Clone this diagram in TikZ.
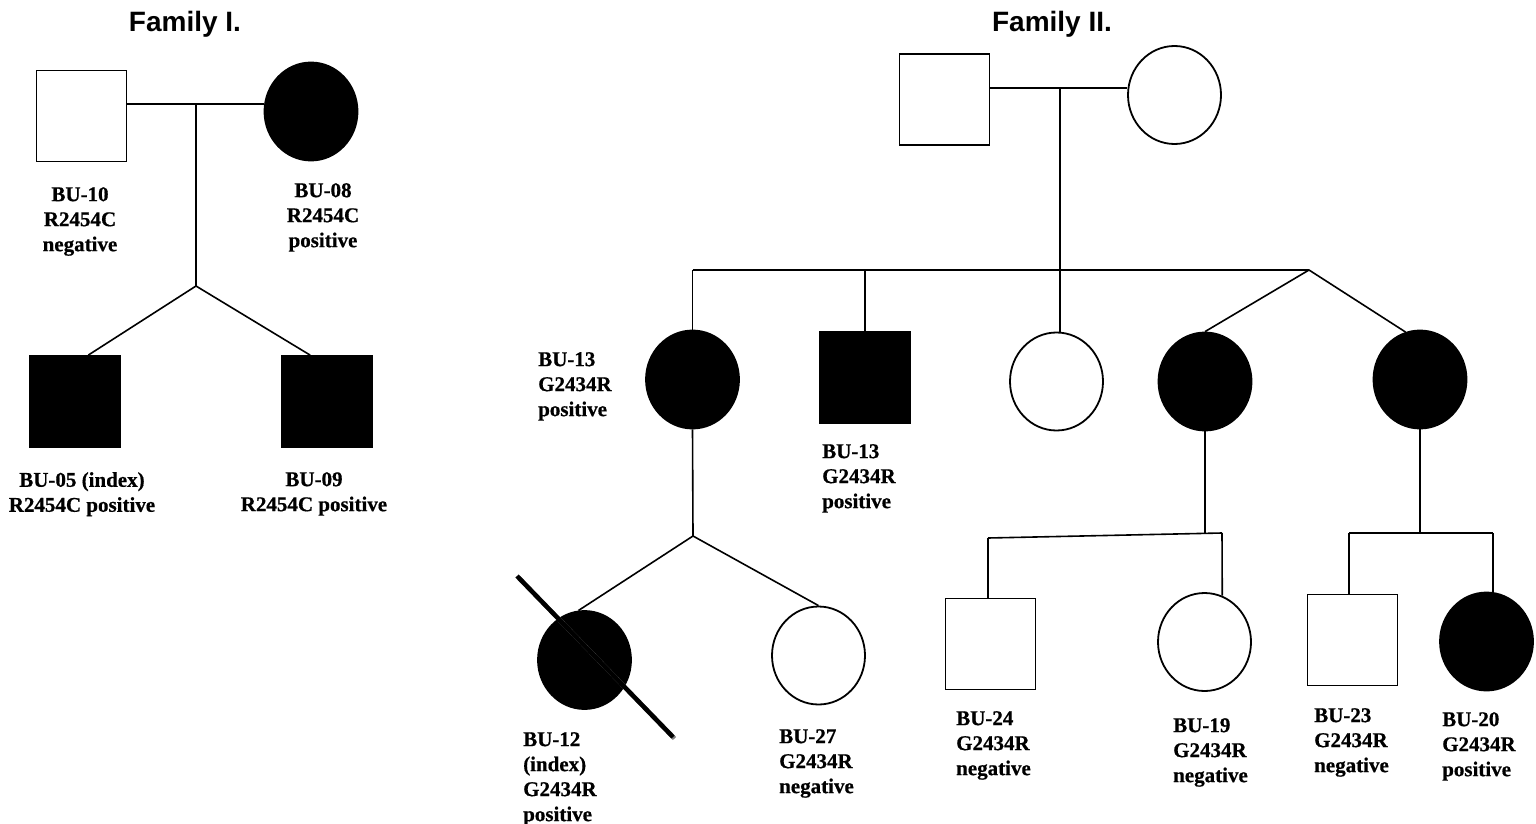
\documentclass[tikz,border=0pt]{standalone}
\usepackage{fontspec}
\setmainfont{Liberation Serif}
\newfontfamily\tagfont{Liberation Serif}[UprightFont={* Bold},FakeBold=0.6,AutoFakeBold=0.6]
\newfontfamily\headfont{Liberation Sans}
\usetikzlibrary{shapes.geometric}

\begin{document}
\begin{tikzpicture}[x=1pt,y=-1pt,
  male/.style={draw,rectangle,line width=1.8pt,minimum width=90pt,minimum height=91pt,inner sep=0pt},
  female/.style={draw,ellipse,line width=1.8pt,minimum width=93pt,minimum height=98pt,inner sep=0pt},
  aff/.style={fill=black},
  kin/.style={line width=1.6pt},
  tag/.style={font=\tagfont\fontsize{21}{25}\selectfont,inner sep=0pt},
  head/.style={font=\headfont\bfseries\fontsize{28}{32}\selectfont,inner sep=0pt}]
\fill[white] (0,0) rectangle (1536,824);
\useasboundingbox (0,0) rectangle (1536,824);
% Titles
\node[head,anchor=base] (t1) at (185,32) {Family I.};
\node[head,anchor=base] (t2) at (1052,32) {Family II.};
% Family I: individuals
\node[male] (m10) at (81.5,116) {};
\node[female,aff] (f08) at (311,111.5) {};
\node[male,aff] (p05) at (75,401.5) {};
\node[male,aff] (p09) at (327,401.5) {};
\node[tag,align=center,anchor=north] (l10) at (80,187) {BU-10\\R2454C\\negative};
\node[tag,align=center,anchor=north] (l08) at (323,183) {BU-08\\R2454C\\positive};
\node[tag,align=center,anchor=north] (l05) at (82,472) {BU-05 (index)\\R2454C positive};
\node[tag,align=center,anchor=north] (l09) at (314,472) {BU-09\\R2454C positive};
% Family II: individuals
\node[male] (m2) at (944.5,99.5) {};
\node[female] (f2) at (1174.5,95) {};
\node[female,aff] (c13) at (692.5,379.5) {};
\node[male,aff] (s13) at (865,377.5) {};
\node[female] (c3) at (1056.5,381.5) {};
\node[female,aff] (c4) at (1205,381.5) {};
\node[female,aff] (c5) at (1420,379.5) {};
\node[female,aff] (c12) at (584.5,660) {};
\node[female] (c27) at (818.5,655.5) {};
\node[male] (s24) at (990.5,644) {};
\node[female] (c19) at (1204.5,642) {};
\node[male] (s23) at (1352.5,640) {};
\node[female,aff] (c20) at (1486.5,641.5) {};
\node[tag,align=left,anchor=north west] (l13a) at (538,352) {BU-13\\G2434R\\positive};
\node[tag,align=left,anchor=north west] (l13b) at (822,444) {BU-13\\G2434R\\positive};
\node[tag,align=left,anchor=north west] (l12) at (523,732) {BU-12\\(index)\\G2434R\\positive};
\node[tag,align=left,anchor=north west] (l27) at (779,729) {BU-27\\G2434R\\negative};
\node[tag,align=left,anchor=north west] (l24) at (956,711) {BU-24\\G2434R\\negative};
\node[tag,align=left,anchor=north west] (l19) at (1173,718) {BU-19\\G2434R\\negative};
\node[tag,align=left,anchor=north west] (l23) at (1314,708) {BU-23\\G2434R\\negative};
\node[tag,align=left,anchor=north west] (l20) at (1442,712) {BU-20\\G2434R\\positive};
% Done with individuals; drawing lines of descent
\coordinate (mate1) at (196,104);
\coordinate (sib1) at (196,286);
\coordinate (mate2) at (1060,88);
\coordinate (sib2) at (1309,270);
\coordinate (sib12) at (693,536);
\coordinate (sub24) at (988,538);
\coordinate (sub19) at (1222,533);
\coordinate (sub23) at (1349,533);
\coordinate (sub20) at (1493,533);
% Family I
\draw[kin] (m10.east |- mate1) -- (f08.west |- mate1);
\draw[kin] (mate1) -- (sib1);
\draw[kin] (p05.74) -- (sib1) -- (p09.110);
% Family II
\draw[kin] (m2.east |- mate2) -- (f2.west |- mate2);
\draw[kin] (mate2) -- (mate2 |- c3.north);
\draw[kin] (c13.north |- sib2) -- (sib2);
\draw[kin] (c13.north) -- (c13.north |- sib2);
\draw[kin] (s13.north) -- (s13.north |- sib2);
\draw[kin] (c4.north) -- (sib2) -- (c5.107);
\draw[kin] (c13.south) -- (sib12);
\draw[kin] (c12.97) -- (sib12) -- (c27.north);
\draw[kin] (c4.south) -- (c4.south |- sub19);
\draw[kin] (sub24) -- (sub19);
\draw[kin] (sub24) -- (sub24 |- s24.north);
\draw[kin] (sub19) -- (c19.69);
\draw[kin] (c5.south) -- (c5.south |- sub23);
\draw[kin] (sub23) -- (sub20);
\draw[kin] (sub23) -- (sub23 |- s23.north);
\draw[kin] (sub20) -- (sub20 |- c20.north);
% Deceased mark on BU-12
\coordinate (d1) at (517,576);
\coordinate (d2) at (673,737);
\draw[gray,line width=4.5pt] ([shift={(1.5,1.5)}]d1) -- ([shift={(1.5,1.5)}]d2);
\draw[line width=4.5pt] (d1) -- (d2);
% Done
\end{tikzpicture}
\end{document}
